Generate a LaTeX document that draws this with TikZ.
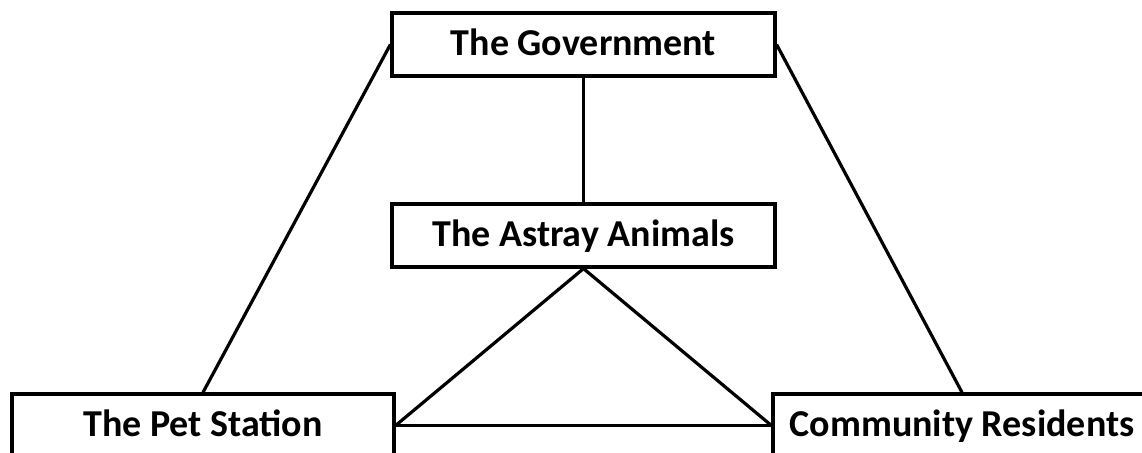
\documentclass[tikz,border=0pt]{standalone}
\usepackage{fontspec}
\setmainfont{Carlito}
\begin{document}
\begin{tikzpicture}[x=1pt,y=-1pt,
  box/.style={draw=black,line width=3.2pt,fill=white,inner sep=0pt,minimum height=63pt,
    text height=22pt,text depth=0pt,
    font=\fontsize{38}{42}\selectfont\bfseries},
  link/.style={line width=3.2pt,black}]
\useasboundingbox (0,0) rectangle (1142,452);
\clip (0,0) rectangle (1142,452);
\node[box,minimum width=383pt] (gov) at (583.5,44.5) {The Government};
\node[box,minimum width=383pt] (ast) at (583.5,235.5) {The Astray Animals};
\node[box,minimum width=382pt] (pet) at (203,425.5) {The Pet Station};
\node[box,minimum width=378pt] (com) at (962,425.5) {Community Residents};
\draw[link] (gov.west) -- (pet.north);
\draw[link] (gov.east) -- (com.north);
\draw[link] (gov.south) -- (ast.north);
\draw[link] (ast.south) -- (pet.east);
\draw[link] (ast.south) -- (com.west);
\draw[link] (pet.east) -- (com.west);
\end{tikzpicture}
\end{document}
